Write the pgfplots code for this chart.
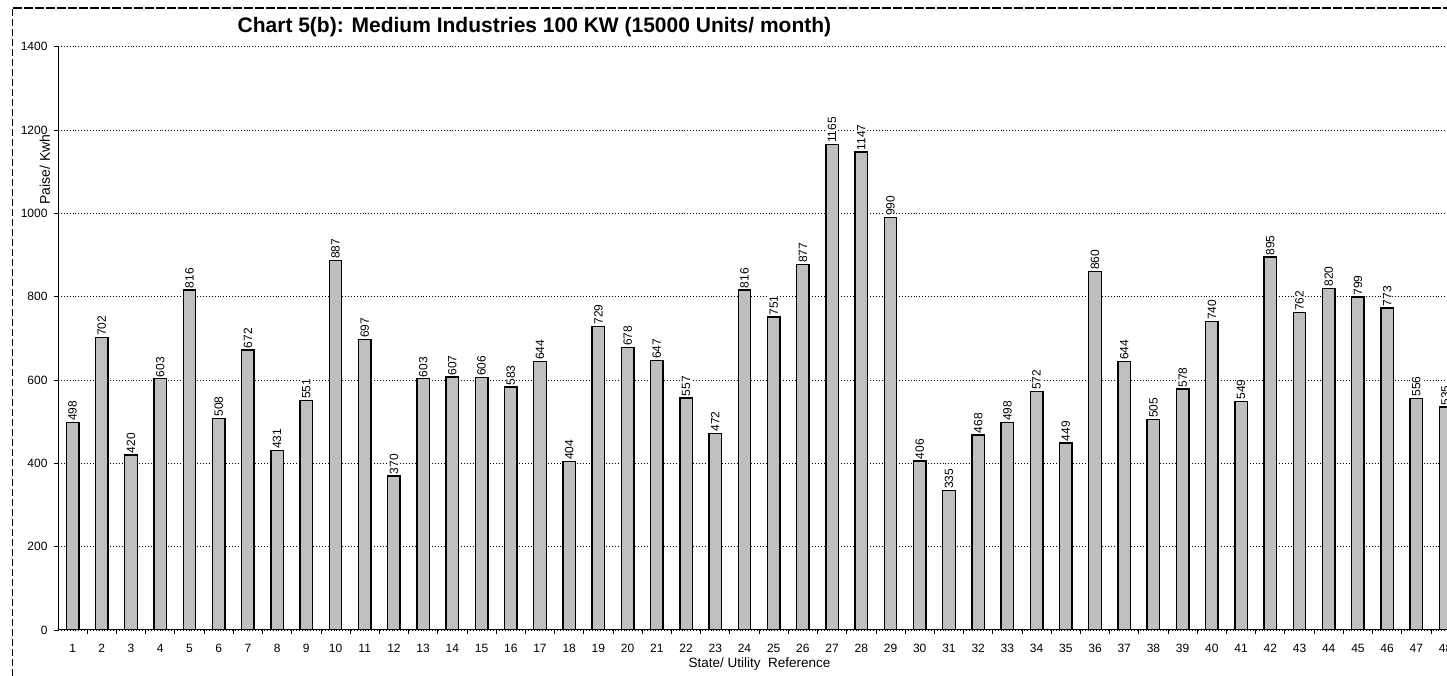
\documentclass[border=0pt]{standalone}
\usepackage{fontspec}
\setmainfont{Liberation Sans}
\usepackage{pgfplots}
\pgfplotsset{compat=1.18}
\usepackage{pgfplotstable}
\pgfplotstableread{
x y
1 498
2 702
3 420
4 603
5 816
6 508
7 672
8 431
9 551
10 887
11 697
12 370
13 603
14 607
15 606
16 583
17 644
18 404
19 729
20 678
21 647
22 557
23 472
24 816
25 751
26 877
27 1165
28 1147
29 990
30 406
31 335
32 468
33 498
34 572
35 449
36 860
37 644
38 505
39 578
40 740
41 549
42 895
43 762
44 820
45 799
46 773
47 556
48 535
}\datatable
\begin{document}
\begin{tikzpicture}
\path[use as bounding box] (0pt,0pt) rectangle (1447pt,676pt);
\draw[line width=1pt, dash pattern=on 7pt off 3pt] (12.5pt,0pt) -- (12.5pt,668pt);
\draw[line width=1.2pt, dash pattern=on 9pt off 2pt] (12.5pt,668pt) -- (1447pt,668pt);
\begin{axis}[
  at={(58pt,46pt)}, anchor=south west,
  scale only axis, width=1389pt, height=583.3pt,
  xmin=0.5, xmax=48.05, ymin=0, ymax=1400,
  axis lines=left, axis line style={-, line width=1pt},
  /pgf/number format/assume math mode=true,
  /pgf/number format/1000 sep={},
  xtick={1,...,48},
  minor x tick num=1,
  ytick={0,200,...,1400},
  tick align=outside,
  x tick style={draw=none},
  minor x tick style={draw=black, line width=0.8pt},
  y tick style={black, line width=0.8pt},
  major tick length=4pt, minor tick length=4pt,
  ymajorgrids, major grid style={black, line width=0.9pt, dotted},
  ticklabel style={font=\fontsize{12}{14}\selectfont},
  xticklabel style={anchor=center, yshift=-14pt},
  yticklabel style={xshift=-3pt},
  title={\textbf{Chart 5(b): Medium Industries 100 KW (15000 Units/ month)}},
  title style={font=\fontsize{21}{24}\selectfont, at={(rel axis cs:0.343,1)}, anchor=center, yshift=13.7pt},
  xlabel={State/ Utility\ \ Reference},
  xlabel style={font=\fontsize{13.5}{15}\selectfont, at={(rel axis cs:0.505,0)}, anchor=center, yshift=-34pt},
  ylabel={Paise/ Kwh},
  ylabel style={font=\fontsize{14}{16}\selectfont, at={(axis description cs:-0.0094,0.789)}, anchor=center},
  ybar, bar width=12.5pt,
  nodes near coords,
  every node near coord/.append style={rotate=90, anchor=west, font=\fontsize{12}{14}\selectfont, inner sep=1pt, xshift=0pt, fill=white, text=black, yshift=0pt},
]
\addplot[draw=black, line width=1.4pt, fill=gray!50] table[x=x,y=y] {\datatable};
\end{axis}
\end{tikzpicture}
\end{document}
